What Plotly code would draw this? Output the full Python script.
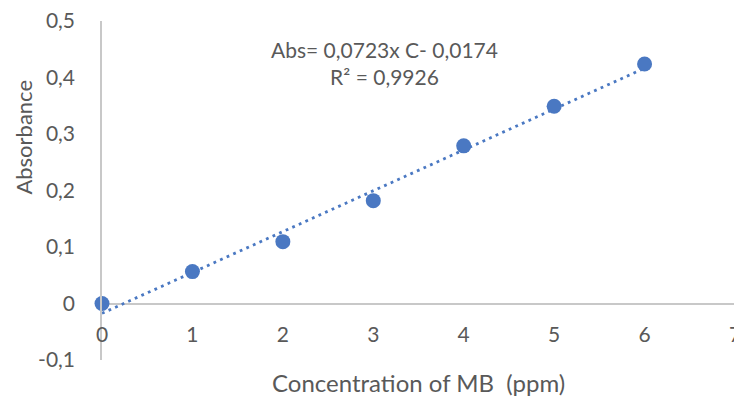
import numpy as np
import plotly.graph_objects as go

# Data
concentration = [0, 1, 2, 3, 4, 5, 6]
absorbance = [0.0, 0.0565, 0.1095, 0.182, 0.279, 0.349, 0.424]

slope = 0.0723
intercept = -0.0174
r_squared = 0.9926

x_ticks = [0, 1, 2, 3, 4, 5, 6, 7]
y_ticks = [-0.1, 0, 0.1, 0.2, 0.3, 0.4, 0.5]
y_tick_text = ["-0,1", "0", "0,1", "0,2", "0,3", "0,4", "0,5"]

x_title = "Concentration of MB  (ppm)"
y_title = "Absorbance"

FONT = "Lato"
TXT = "#595959"
BLUE = "#4A78C2"
AXIS = "#C8C8C8"

trend_x = np.array([concentration[0], concentration[-1]], dtype=float)
trend_y = slope * trend_x + intercept

def fmt(v):
    return f"{v:.4f}".replace(".", ",")

eq_text = f"Abs= {fmt(slope)}x C- {fmt(abs(intercept))}<br>R² = {fmt(r_squared)}"

fig = go.Figure()
fig.add_trace(go.Scatter(
    x=trend_x, y=trend_y, mode="lines",
    line=dict(color=BLUE, width=2.8, dash="2.8px,4.4px"),
    hoverinfo="skip", showlegend=False,
))
fig.add_trace(go.Scatter(
    x=concentration, y=absorbance, mode="markers",
    marker=dict(color=BLUE, size=15, line=dict(width=0)),
    showlegend=False, cliponaxis=False,
))

y0, y1 = -0.1, 0.5
fig.update_layout(
    width=734, height=388,
    margin=dict(l=94, r=7, t=13, b=36, autoexpand=False),
    paper_bgcolor="white", plot_bgcolor="white",
    font=dict(family=FONT, color=TXT, size=21),
    xaxis=dict(
        range=[0, 7], tickvals=x_ticks, ticktext=[str(v) for v in x_ticks],
        showgrid=False, zeroline=False, showline=False,
        anchor="free", position=(0 - y0) / (y1 - y0), automargin=False,
        ticks="", ticklabelstandoff=16, ticklabeloverflow="allow",
        tickfont=dict(family=FONT, color=TXT, size=21),
    ),
    yaxis=dict(
        range=[y0, y1], tickvals=y_ticks, ticktext=y_tick_text,
        showgrid=False, zeroline=True, zerolinecolor=AXIS, zerolinewidth=1.5,
        showline=True, linecolor=AXIS, linewidth=1.5,
        ticks="", ticklabelstandoff=21, automargin=False, ticklabeloverflow="allow",
        tickfont=dict(family=FONT, color=TXT, size=21),
    ),
    annotations=[
        dict(text=x_title, xref="paper", yref="paper", x=0.5, y=0,
             yanchor="middle", xanchor="center", yshift=-22, showarrow=False,
             font=dict(family=FONT, color=TXT, size=24)),
        dict(text=y_title, xref="paper", yref="paper", x=0, y=0.656,
             xanchor="center", yanchor="middle", xshift=-78, textangle=-90,
             showarrow=False, font=dict(family=FONT, color=TXT, size=22)),
        dict(text=eq_text, xref="paper", yref="paper", x=0.447, y=0.875,
             xanchor="center", yanchor="middle", align="center", showarrow=False,
             font=dict(family=FONT, color=TXT, size=21)),
    ],
)

fig.write_html("out.html")
